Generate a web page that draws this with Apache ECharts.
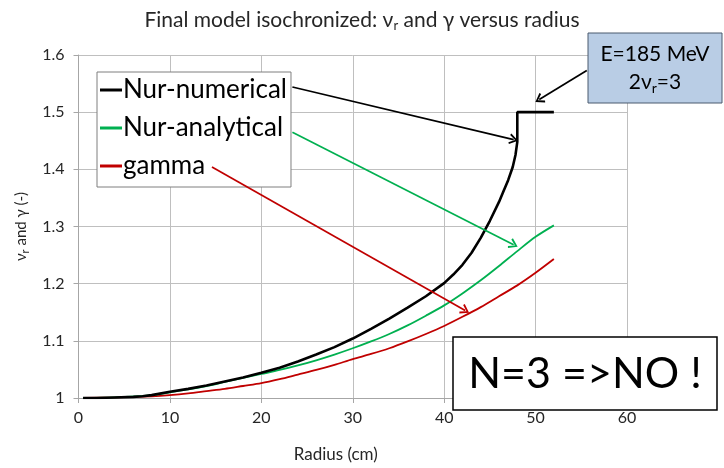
<!DOCTYPE html>
<html><head><meta charset="utf-8">
<script src="https://cdn.jsdelivr.net/npm/echarts@6/dist/echarts.min.js"></script>
<style>html,body{margin:0;padding:0;background:#fff}#c{width:724px;height:468px}</style>
</head><body><div id="c"></div>
<script>
const FONT = 'Lato';
const xTicks = [0, 10, 20, 30, 40, 50, 60];
const yTicks = [1, 1.1, 1.2, 1.3, 1.4, 1.5, 1.6];

const numX = [0.5,2,4,6,7,8,10,12,14,16,18,20,22,24,26,28,30,32,34,36,38,40,41,42,43,44,45,46,46.5,47,47.5,47.8,48,48,50,52];
const numY = [1.000,1.000,1.001,1.002,1.003,1.005,1.011,1.016,1.022,1.029,1.036,1.044,1.053,1.064,1.076,1.089,1.104,1.121,1.139,1.158,1.178,1.201,1.216,1.233,1.254,1.280,1.310,1.343,1.362,1.381,1.404,1.425,1.448,1.5,1.5,1.5];

const anaX = [0.5,4,8,10,12,14,16,18,20,22,24,26,28,30,32,34,36,38,40,42,44,46,48,50,52];
const anaY = [1.000,1.001,1.005,1.010,1.015,1.021,1.028,1.035,1.042,1.049,1.057,1.066,1.076,1.087,1.099,1.112,1.127,1.144,1.162,1.183,1.206,1.231,1.257,1.282,1.302];

const gamX = [0.5,4,8,10,12,14,16,18,20,22,24,26,28,30,32,34,36,38,40,42,44,46,48,50,52];
const gamY = [1.000,1.001,1.003,1.005,1.008,1.012,1.016,1.021,1.026,1.033,1.041,1.049,1.058,1.068,1.077,1.087,1.099,1.112,1.126,1.142,1.159,1.178,1.197,1.219,1.243];

// annotation arrows (data coordinates): [startX, startY, endX, endY]
const arrowNum = [23.4, 1.544, 47.6, 1.452];
const arrowAna = [23.4, 1.465, 47.6, 1.268];
const arrowGam = [14.6, 1.404, 42.3, 1.153];
const arrowBox = [55.6, 1.573, 50.4, 1.522];

const names = ['Nur-numerical', 'Nur-analytical', 'gamma'];
const colors = ['#000000', '#00b050', '#c00000'];
const chevron = 'path://M5,0 L10,9 L8.4,10 L5,3.4 L1.6,10 L0,9 Z';

function pairs(xs, ys) { return xs.map((x, i) => [x, ys[i]]); }
function arrow(a, color) {
  return {
    silent: true, symbol: ['none', chevron], symbolSize: [11, 9],
    label: { show: false },
    lineStyle: { color: color, width: 1.7, type: 'solid' },
    itemStyle: { color: color },
    data: [[{ coord: [a[0], a[1]] }, { coord: [a[2], a[3]] }]]
  };
}

const chart = echarts.init(document.getElementById('c'));
const subRich = { sub: { fontSize: 11, padding: [9, 0, 0, 0], fontFamily: FONT, color: '#262626' } };
chart.setOption({
  animation: false,
  backgroundColor: '#fff',
  textStyle: { fontFamily: FONT },
  title: {
    text: 'Final model isochronized: ν{sub|r} and γ versus radius',
    left: 'center', top: 4,
    textStyle: { fontSize: 21, fontWeight: 'normal', color: '#262626', fontFamily: FONT,
      rich: { sub: { fontSize: 13, padding: [10, 0, 0, 0], fontFamily: FONT, color: '#262626' } } }
  },
  legend: {
    orient: 'vertical', left: 97, top: 72,
    backgroundColor: '#fff', borderColor: '#7f7f7f', borderWidth: 1,
    padding: [5, 4, 8, 3],
    itemWidth: 22, itemHeight: 3, itemGap: 12, icon: 'rect',
    textStyle: { fontSize: 26, color: '#000', fontFamily: FONT, lineHeight: 26, padding: [0, 0, 0, -4] },
    data: names
  },
  grid: { left: 78.5, top: 55, width: 548.5, height: 343 },
  xAxis: {
    type: 'value', min: xTicks[0], max: xTicks[xTicks.length - 1], interval: 10,
    name: 'Radius (cm)', nameLocation: 'middle', nameGap: 48,
    nameTextStyle: { fontSize: 17, color: '#262626', padding: [0, 34, 0, 0] },
    axisLine: { show: true, lineStyle: { color: '#a6a6a6', width: 1 } },
    axisTick: { show: true, length: 5, lineStyle: { color: '#a6a6a6' } },
    axisLabel: { fontSize: 16, color: '#262626', margin: 12 },
    splitLine: { show: true, lineStyle: { color: '#bfbfbf', width: 1 } }
  },
  yAxis: {
    type: 'value', min: yTicks[0], max: yTicks[yTicks.length - 1], interval: 0.1,
    name: 'ν{sub|r} and γ (-)', nameLocation: 'middle', nameGap: 45, nameRotate: 90,
    nameTextStyle: { fontSize: 15, color: '#262626', rich: subRich },
    axisLine: { show: true, lineStyle: { color: '#a6a6a6', width: 1 } },
    axisTick: { show: true, length: 5, lineStyle: { color: '#a6a6a6' } },
    axisLabel: { fontSize: 16, color: '#262626', margin: 14,
      formatter: v => Math.abs(v - 1) < 1e-9 ? '1' : String(+v.toFixed(1)) },
    splitLine: { show: true, lineStyle: { color: '#bfbfbf', width: 1 } }
  },
  series: [
    { name: names[0], type: 'line', data: pairs(numX, numY), showSymbol: false, symbol: 'none',
      color: colors[0], lineStyle: { color: colors[0], width: 2.6 }, z: 4,
      markLine: arrow(arrowNum, '#000') },
    { name: names[1], type: 'line', data: pairs(anaX, anaY), showSymbol: false, symbol: 'none', smooth: 0.3,
      color: colors[1], lineStyle: { color: colors[1], width: 1.8 }, z: 3,
      markLine: arrow(arrowAna, colors[1]) },
    { name: names[2], type: 'line', data: pairs(gamX, gamY), showSymbol: false, symbol: 'none', smooth: 0.3,
      color: colors[2], lineStyle: { color: colors[2], width: 1.8 }, z: 2,
      markLine: arrow(arrowGam, colors[2]) },
    { type: 'line', data: [], silent: true, markLine: arrow(arrowBox, '#000') }
  ],
  graphic: [
    { type: 'rect', x: 588, y: 33, z: 100,
      shape: { x: 0, y: 0, width: 134, height: 70 },
      style: { fill: '#b9cde5', stroke: '#4a5a6e', lineWidth: 1 } },
    { type: 'text', z: 101,
      style: { text: 'E=185 MeV', fontSize: 21, fontFamily: FONT, fill: '#000', x: 655, y: 54, align: 'center', verticalAlign: 'middle' } },
    { type: 'text', z: 101,
      style: { text: '2ν{sub|r}=3', fontSize: 21, fontFamily: FONT, fill: '#000', x: 655, y: 82, align: 'center', verticalAlign: 'middle',
        rich: { sub: { fontSize: 14, padding: [12, 0, 0, 0], fontFamily: FONT } } } },
    { type: 'rect', x: 453, y: 337, z: 100,
      shape: { x: 0, y: 0, width: 264, height: 73 },
      style: { fill: '#fff', stroke: '#000', lineWidth: 1.5 } },
    { type: 'text', z: 101,
      style: { text: 'N=3 =>NO !', fontSize: 43, fontFamily: FONT, fill: '#000', x: 585, y: 374, align: 'center', verticalAlign: 'middle' } }
  ]
});
</script></body></html>
